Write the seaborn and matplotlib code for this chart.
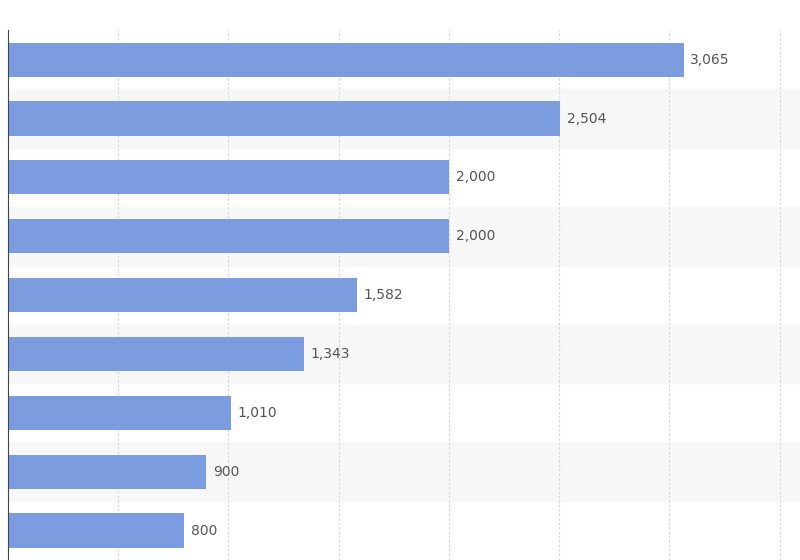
import matplotlib
matplotlib.use("Agg")
import matplotlib.pyplot as plt
import seaborn as sns
import pandas as pd

categories = ["A", "B", "C", "D", "E", "F", "G", "H", "I"]
values = [3065, 2504, 2000, 2000, 1582, 1343, 1010, 900, 800]

df = pd.DataFrame({"cat": categories, "val": values})

fig = plt.figure(figsize=(8, 5.6), dpi=100)
ax = fig.add_axes([0.01, 0.0, 0.99, 0.946])

# alternating row bands
for i in range(len(categories)):
    if i % 2 == 1:
        ax.axhspan(i - 0.5, i + 0.5, color="#f7f7f7", zorder=0)

sns.barplot(data=df, y="cat", x="val", color="#7b9de0", saturation=1,
            width=0.58, ax=ax, zorder=2)

ax.set_xlim(0, 3592)
ax.set_ylim(len(categories) - 0.5, -0.5)
ax.set_xticks(range(500, 3600, 500))
ax.grid(axis="x", linestyle=(0, (2, 2)), color="#d5d5d5", linewidth=0.8, zorder=1)
ax.set_axisbelow(True)
ax.set_xlabel("")
ax.set_ylabel("")
ax.set_yticks([])
ax.tick_params(axis="x", length=0, labelbottom=False)
for s in ["top", "right", "bottom"]:
    ax.spines[s].set_visible(False)
ax.spines["left"].set_color("#444444")

for i, v in enumerate(values):
    ax.text(v + 30, i, f"{v:,}", va="center", ha="left", fontsize=10, color="#555555", zorder=3)

fig.savefig("out.png", dpi=100)
